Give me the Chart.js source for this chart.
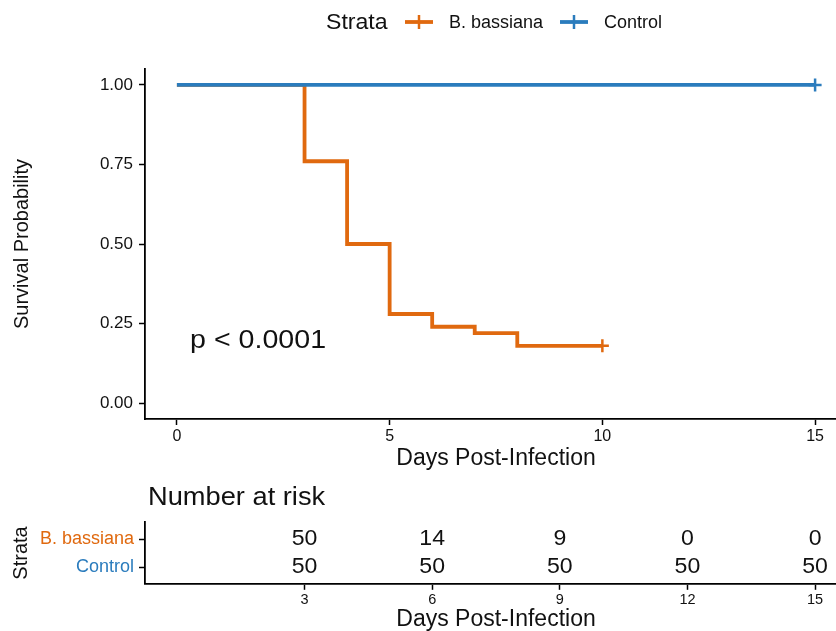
<!DOCTYPE html>
<html>
<head>
<meta charset="utf-8">
<script src="https://cdn.jsdelivr.net/npm/chart.js@4.4.1/dist/chart.umd.min.js"></script>
<style>
  html, body { margin: 0; padding: 0; background: #fff; width: 836px; height: 631px; overflow: hidden; }
  #wrap { position: relative; width: 836px; height: 631px; overflow: hidden; }
  canvas { position: absolute; left: 0; }
  #main { top: 0; }
  #risk { top: 480px; }
</style>
</head>
<body>
<div id="wrap">
  <canvas id="main" width="847" height="480"></canvas>
  <canvas id="risk" width="847" height="155"></canvas>
</div>
<script>
// ---------- data ----------
const strata = ['B. bassiana', 'Control'];
const bbTimes = [0, 3, 4, 5, 6, 7, 8, 10];
const bbSurv = [1, 0.76, 0.50, 0.28, 0.24, 0.22, 0.18, 0.18];
const ctrlTimes = [0, 15];
const ctrlSurv = [1, 1];
const bbCensorTimes = [10];
const bbCensorSurv = [0.18];
const ctrlCensorTimes = [15];
const ctrlCensorSurv = [1];
const survTicks = [0, 0.25, 0.5, 0.75, 1];
const survTickLabels = ['0.00', '0.25', '0.50', '0.75', '1.00'];
const dayTicks = [0, 5, 10, 15];
const riskTimes = [3, 6, 9, 12, 15];
const riskBB = [50, 14, 9, 0, 0];
const riskCtrl = [50, 50, 50, 50, 50];
const pValueText = 'p < 0.0001';

// ---------- style ----------
const ORANGE = '#E0690F';
const BLUE = '#2B7CBD';
const FONT = "'Liberation Sans', Arial, sans-serif";
const AXIS = '#000';
const TEXT = '#111';

function pts(xs, ys) { return xs.map((x, i) => ({ x: x, y: ys[i] })); }

function stretchText(ctx, text, x, y, size, sx, align, color) {
  ctx.save();
  ctx.translate(x, y);
  ctx.scale(sx, 1);
  ctx.font = size + 'px ' + FONT;
  ctx.textAlign = align;
  ctx.textBaseline = 'middle';
  ctx.fillStyle = color;
  ctx.fillText(text, 0, 0);
  ctx.restore();
}

const legendPlugin = {
  id: 'kmLegend',
  afterDraw(chart) {
    const ctx = chart.ctx;
    const y = 23;
    stretchText(ctx, 'Strata', 326, y, 22, 1.05, 'left', TEXT);
    const items = [
      { x0: 405, x1: 433, tx: 449, label: strata[0], color: ORANGE },
      { x0: 560, x1: 588, tx: 604, label: strata[1], color: BLUE }
    ];
    items.forEach(it => {
      ctx.save();
      ctx.strokeStyle = it.color;
      ctx.lineWidth = 3.8;
      ctx.beginPath(); ctx.moveTo(it.x0, y - 1); ctx.lineTo(it.x1, y - 1); ctx.stroke();
      const cx = (it.x0 + it.x1) / 2;
      ctx.lineWidth = 2.5;
      ctx.beginPath(); ctx.moveTo(cx, y - 8); ctx.lineTo(cx, y + 6); ctx.stroke();
      ctx.restore();
      stretchText(ctx, it.label, it.tx, y, 18, 1.0, 'left', TEXT);
    });
    // p-value annotation
    const xs = chart.scales.x, ys = chart.scales.y;
    stretchText(ctx, pValueText, xs.getPixelForValue(0.31), ys.getPixelForValue(0.195), 26, 1.1, 'left', TEXT);
  }
};

const mainCtx = document.getElementById('main').getContext('2d');
new Chart(mainCtx, {
  type: 'line',
  data: {
    datasets: [
      { label: strata[0], order: 2, data: pts(bbTimes, bbSurv), borderColor: ORANGE, borderWidth: 3.8, stepped: 'before', pointRadius: 0, fill: false, borderJoinStyle: 'miter', borderCapStyle: 'butt' },
      { label: strata[1], order: 1, data: pts(ctrlTimes, ctrlSurv), borderColor: BLUE, borderWidth: 3.8, stepped: 'before', pointRadius: 0, fill: false, borderCapStyle: 'butt' },
      { type: 'scatter', order: 0, data: pts(bbCensorTimes, bbCensorSurv), pointStyle: 'cross', pointRadius: 6.5, borderColor: ORANGE, pointBorderWidth: 2.5, showLine: false },
      { type: 'scatter', order: 0, data: pts(ctrlCensorTimes, ctrlCensorSurv), pointStyle: 'cross', pointRadius: 6.5, borderColor: BLUE, pointBorderWidth: 2.5, showLine: false }
    ]
  },
  options: {
    responsive: false,
    animation: false,
    devicePixelRatio: 1,
    layout: { autoPadding: false, padding: { top: 69, left: 0, right: 0, bottom: 0 } },
    plugins: { legend: { display: false }, tooltip: { enabled: false } },
    scales: {
      x: {
        type: 'linear', min: -0.75, max: 15.75,
        afterBuildTicks: s => { s.ticks = dayTicks.map(v => ({ value: v })); },
        afterFit: s => { s.height = 61; s.paddingLeft = 0; s.paddingRight = 0; },
        border: { display: true, color: AXIS, width: 1.8 },
        grid: { display: true, drawOnChartArea: false, drawTicks: true, tickLength: 6, tickWidth: 1.5, tickColor: AXIS },
        ticks: { color: TEXT, font: { family: FONT, size: 16 }, padding: 2, maxRotation: 0, autoSkip: false, callback: v => String(v) },
        title: { display: true, text: 'Days Post-Infection', color: TEXT, font: { family: FONT, size: 23 }, padding: { top: 0, bottom: 8 } }
      },
      y: {
        type: 'linear', min: -0.05, max: 1.05,
        afterBuildTicks: s => { s.ticks = survTicks.map(v => ({ value: v })); },
        afterFit: s => { s.width = 145; },
        border: { display: true, color: AXIS, width: 1.8 },
        grid: { display: true, drawOnChartArea: false, drawTicks: true, tickLength: 6, tickWidth: 1.5, tickColor: AXIS },
        ticks: { color: TEXT, font: { family: FONT, size: 17 }, padding: 6, autoSkip: false, callback: v => survTickLabels[survTicks.indexOf(v)] },
        title: { display: true, text: 'Survival Probability', color: TEXT, font: { family: FONT, size: 20 }, padding: { top: 10, bottom: 0 } }
      }
    }
  },
  plugins: [legendPlugin]
});

const riskPlugin = {
  id: 'riskText',
  afterDatasetsDraw(chart) {
    const ctx = chart.ctx;
    chart.data.datasets.forEach((ds, di) => {
      const meta = chart.getDatasetMeta(di);
      meta.data.forEach((el, i) => {
        stretchText(ctx, String(ds.counts[i]), el.x, el.y, 22, 1.05, 'center', TEXT);
      });
    });
    stretchText(ctx, 'Number at risk', 148, 18, 25, 1.09, 'left', TEXT);
  }
};

const rowOf = i => strata.length - i;
const riskCtx = document.getElementById('risk').getContext('2d');
new Chart(riskCtx, {
  type: 'scatter',
  data: {
    datasets: [
      { label: strata[0], counts: riskBB, data: riskTimes.map(t => ({ x: t, y: rowOf(0) })), pointRadius: 0 },
      { label: strata[1], counts: riskCtrl, data: riskTimes.map(t => ({ x: t, y: rowOf(1) })), pointRadius: 0 }
    ]
  },
  options: {
    responsive: false,
    animation: false,
    devicePixelRatio: 1,
    layout: { autoPadding: false, padding: { top: 42.2, left: 0, right: 0, bottom: 0 } },
    plugins: { legend: { display: false }, tooltip: { enabled: false } },
    scales: {
      x: {
        type: 'linear', min: -0.75, max: 15.75,
        afterBuildTicks: s => { s.ticks = riskTimes.map(v => ({ value: v })); },
        afterFit: s => { s.height = 51.2; s.paddingLeft = 0; s.paddingRight = 0; },
        border: { display: true, color: AXIS, width: 1.8 },
        grid: { display: true, drawOnChartArea: false, drawTicks: true, tickLength: 6, tickWidth: 1.5, tickColor: AXIS },
        ticks: { color: TEXT, font: { family: FONT, size: 14.5 }, padding: 1.5, maxRotation: 0, autoSkip: false, callback: v => String(v) },
        title: { display: true, text: 'Days Post-Infection', color: TEXT, font: { family: FONT, size: 23 }, padding: { top: 0, bottom: 1.5 } }
      },
      y: {
        type: 'linear', min: 0.4, max: 2.6,
        afterBuildTicks: s => { s.ticks = strata.map((n, i) => ({ value: rowOf(i) })); },
        afterFit: s => { s.width = 145; },
        border: { display: true, color: AXIS, width: 1.8 },
        grid: { display: true, drawOnChartArea: false, drawTicks: true, tickLength: 6, tickWidth: 1.5, tickColor: AXIS },
        ticks: {
          font: { family: FONT, size: 18 }, padding: 5, autoSkip: false,
          color: c => (c.tick && c.tick.value === rowOf(0)) ? ORANGE : BLUE,
          callback: v => strata[strata.length - v]
        },
        title: { display: true, text: 'Strata', color: TEXT, font: { family: FONT, size: 20 }, padding: { top: 9, bottom: 0 } }
      }
    }
  },
  plugins: [riskPlugin]
});
</script>
</body>
</html>
